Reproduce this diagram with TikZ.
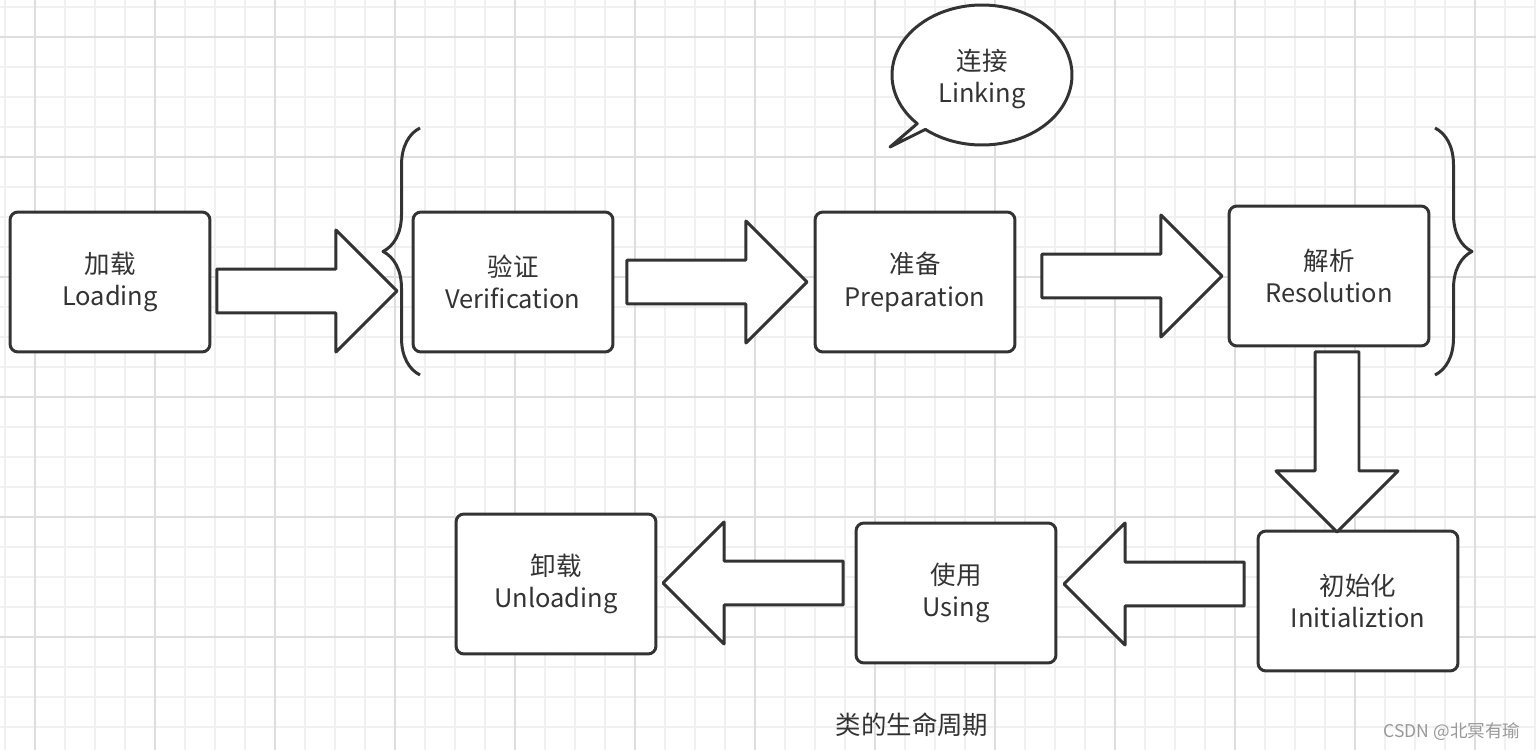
\documentclass[tikz,border=0pt]{standalone}
\usepackage{fontspec}
\setmainfont{Noto Sans CJK SC}
\usetikzlibrary{shapes.arrows,calc,decorations.pathreplacing}
\definecolor{ink}{RGB}{51,51,51}
\definecolor{gridminor}{RGB}{240,240,240}
\definecolor{gridmajor}{RGB}{222,222,222}

\begin{document}
\begin{tikzpicture}[x=0.02cm,y=-0.02cm,line join=round,
    stage/.style={draw=ink,line width=1.7pt,rounded corners=0.16cm,fill=white,
        minimum width=4cm,minimum height=2.8cm,outer sep=0pt,align=center,
        text=ink,font=\fontsize{14.5}{18.5}\selectfont},
    hollow/.style={single arrow,draw=ink,line width=1.7pt,fill=white,
        minimum height=3.6cm,inner sep=0.41cm,outer sep=0pt,
        single arrow head extend=0.78cm,single arrow tip angle=90,anchor=tail},
    brace/.style={draw=ink,line width=1.7pt,decorate,
        decoration={brace,amplitude=0.74cm}}]
    \useasboundingbox (0,0) rectangle (1536,750);
    \fill [white] (0,0) rectangle (1536,750);
    \foreach \x in {5,35,...,1535}
        \draw [gridminor,line width=0.6pt] (\x,0) -- (\x,750);
    \foreach \y in {7,37,...,747}
        \draw [gridminor,line width=0.6pt] (0,\y) -- (1536,\y);
    \foreach \x in {35,155,...,1535}
        \draw [gridmajor,line width=0.8pt] (\x,0) -- (\x,750);
    \foreach \y in {37,157,...,747}
        \draw [gridmajor,line width=0.8pt] (0,\y) -- (1536,\y);

    \node [stage] (load)    at (110,282)  {加载\\Loading};
    \node [stage] (verify)  at (513,282)  {验证\\Verification};
    \node [stage] (prepare) at (915,282)  {准备\\Preparation};
    \node [stage] (resolve) at (1329,276) {解析\\Resolution};
    \node [stage] (init)    at (1358,601) {初始化\\Initializtion};
    \node [stage] (use)     at (956,593)  {使用\\Using};
    \node [stage] (unload)  at (556,584)  {卸载\\Unloading};

    \node [hollow] (a1) at ($(load.east)+(7,9)$) {};
    \node [hollow] (a2) at ($(verify.east)+(14,0)$) {};
    \node [hollow] (a3) at ($(prepare.east)+(27,-6)$) {};
    \node [hollow,rotate=-90] (a4) at ($(resolve.south)+(8,6)$) {};
    \node [hollow,rotate=180] (a5) at ($(init.west)+(-14,-17)$) {};
    \node [hollow,rotate=180] (a6) at ($(use.west)+(-13,-10)$) {};

    \draw [brace] (420,375) -- (420,128);
    \draw [brace] (1435,128) -- (1435,375);

    \coordinate (bubble) at (982,75);
    \coordinate (tail) at (890,147);
    \draw [ink,line width=1.7pt,fill=white] ($(bubble)+(136:90 and 70)$)
        arc [start angle=136,end angle=489,x radius=90,y radius=70] -- (tail) -- cycle;
    \node [align=center,text=ink,font=\fontsize{14.5}{18.5}\selectfont] (linking)
        at ($(bubble)+(0,4)$) {连接\\Linking};

    \node [text=ink,font=\fontsize{14.5}{18}\selectfont] (title) at (912,725) {类的生命周期};
    \node [text=black!40,font=\fontsize{10}{12}\selectfont] (mark) at (1452,732) {CSDN @北冥有瑜};
\end{tikzpicture}
\end{document}
